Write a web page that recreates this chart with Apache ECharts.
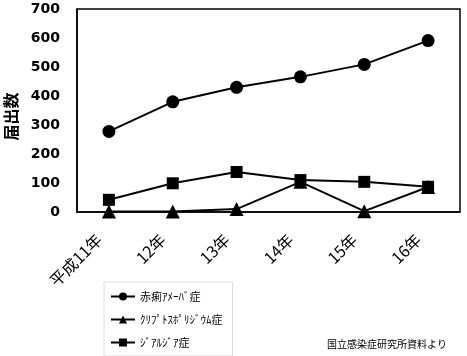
<!DOCTYPE html>
<html><head><meta charset="utf-8">
<script src="https://cdn.jsdelivr.net/npm/echarts@6/dist/echarts.min.js"></script>
<style>html,body{margin:0;padding:0;background:#fff}#c{width:467px;height:356px}</style>
</head><body><div id="c"></div>
<script>
const categories = ['平成11年','12年','13年','14年','15年','16年'];
const amoeba = [278, 380, 430, 466, 509, 591];
const crypto = [2, 2, 10, 104, 3, 86];
const giardia = [42, 99, 138, 110, 104, 87];
const seriesNames = ['赤痢ｱﾒｰﾊﾞ症', 'ｸﾘﾌﾟﾄｽﾎﾟﾘｼﾞｳﾑ症', 'ｼﾞｱﾙｼﾞｱ症'];
const yTicks = [0, 100, 200, 300, 400, 500, 600, 700];
const fontFam = '"Noto Sans CJK JP", "DejaVu Sans", sans-serif';

const chart = echarts.init(document.getElementById('c'), null, {renderer: 'canvas'});
function mkSeries(name, data, symbol, size) {
  return {
    name, type: 'line', data, symbol, symbolSize: size,
    lineStyle: {color: '#000', width: 2}, itemStyle: {color: '#000'},
    animation: false, z: 3
  };
}
chart.setOption({
  animation: false,
  backgroundColor: '#fff',
  grid: {left: 77, right: 7, top: 9, bottom: 144, show: true, borderColor: '#000', borderWidth: 1.5,
         containLabel: false, outerBoundsMode: 'none'},
  xAxis: {
    type: 'category', data: categories, boundaryGap: true,
    axisLine: {lineStyle: {color: '#000', width: 1.5}},
    axisTick: {show: false},
    axisLabel: {rotate: 45, color: '#000', fontSize: 16, fontFamily: fontFam, margin: 15, interval: 0, padding: [0, 14, 0, 0]}
  },
  yAxis: {
    type: 'value', min: yTicks[0], max: yTicks[yTicks.length - 1], interval: 100,
    name: '届出数', nameLocation: 'middle', nameRotate: 90, nameGap: 58, nameMoveOverlap: false,
    nameTextStyle: {color: '#000', fontSize: 16, fontWeight: 'bold', fontFamily: fontFam, padding: [0, 12, 0, 0]},
    axisLine: {show: true, lineStyle: {color: '#000', width: 1.5}},
    axisTick: {show: false},
    splitLine: {show: false},
    axisLabel: {color: '#000', fontSize: 14, fontWeight: 'bold', fontFamily: '"DejaVu Sans", sans-serif', margin: 17}
  },
  legend: {
    orient: 'vertical', left: 104, top: 282, itemGap: 12, padding: [9, 10, 8, 6],
    borderColor: '#ddd', borderWidth: 1, itemWidth: 24, itemHeight: 10,
    textStyle: {color: '#000', fontSize: 11, fontFamily: fontFam},
    data: seriesNames
  },
  graphic: [{
    type: 'text', left: 327, top: 339,
    style: {text: '国立感染症研究所資料より', fill: '#000', font: '10px ' + fontFam}
  }],
  series: [
    mkSeries(seriesNames[0], amoeba, 'circle', 13),
    mkSeries(seriesNames[1], crypto, 'triangle', 14),
    mkSeries(seriesNames[2], giardia, 'rect', 12)
  ]
});
</script></body></html>
